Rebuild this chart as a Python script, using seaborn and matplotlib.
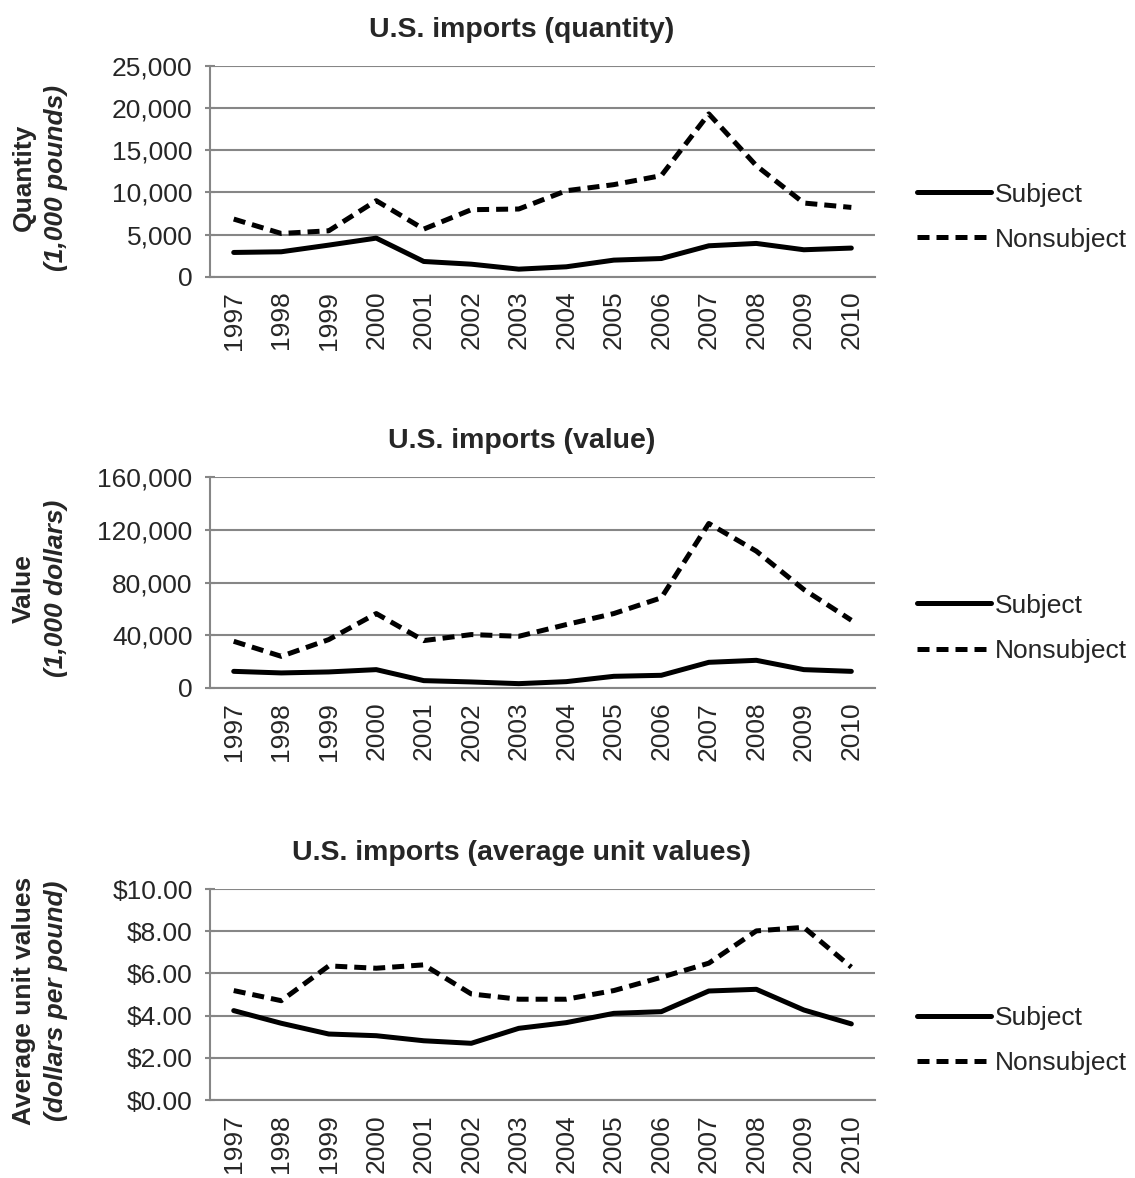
import pandas as pd
import matplotlib
matplotlib.use("Agg")
import matplotlib.pyplot as plt
import matplotlib.ticker as mtick
import seaborn as sns

years = [str(y) for y in range(1997, 2011)]

qty_subject = [2890, 2970, 3760, 4590, 1820, 1500, 910, 1190, 1980, 2170, 3680, 3960, 3210, 3410]
qty_nonsubject = [6850, 5140, 5460, 9030, 5660, 7960, 8040, 10210, 10930, 12000, 19320, 13180, 8750, 8230]

val_subject = [12600, 11400, 12150, 13900, 5550, 4560, 3270, 4790, 8830, 9600, 19450, 20970, 13900, 12600]
val_nonsubject = [35400, 24000, 36700, 56450, 35940, 40500, 39200, 48100, 56450, 68400, 124800, 103800, 74700, 51400]

auv_subject = [4.24, 3.64, 3.13, 3.05, 2.81, 2.69, 3.40, 3.67, 4.11, 4.19, 5.17, 5.25, 4.27, 3.61]
auv_nonsubject = [5.19, 4.71, 6.36, 6.25, 6.41, 5.03, 4.78, 4.78, 5.19, 5.82, 6.49, 8.02, 8.19, 6.30]

titles = ["U.S. imports (quantity)", "U.S. imports (value)", "U.S. imports (average unit values)"]
ylabels = [("Quantity", "(1,000 pounds)"), ("Value", "(1,000 dollars)"),
           ("Average unit values", "(dollars per pound)")]

sns.set_style("white")
plt.rcParams["font.family"] = ["Liberation Sans", "DejaVu Sans"]

fig = plt.figure(figsize=(11.35, 11.78), dpi=100)
grey = "#868686"
fs = 19

panels = [
    (qty_subject, qty_nonsubject, (0, 25000), 5000, lambda v, p: f"{v:,.0f}"),
    (val_subject, val_nonsubject, (0, 160000), 40000, lambda v, p: f"{v:,.0f}"),
    (auv_subject, auv_nonsubject, (0, 10), 2, lambda v, p: f"${v:,.2f}"),
]
bottoms = [0.765, 0.416, 0.0662]

for i, (subj, nonsubj, ylim, step, fmt) in enumerate(panels):
    ax = fig.add_axes([0.185, bottoms[i], 0.586, 0.179])
    df = pd.DataFrame({
        "Year": years * 2,
        "Value": subj + nonsubj,
        "Series": ["Subject"] * len(years) + ["Nonsubject"] * len(years),
    })
    sns.lineplot(data=df, x="Year", y="Value", hue="Series", style="Series",
                 palette={"Subject": "black", "Nonsubject": "black"},
                 dashes={"Subject": "", "Nonsubject": (2.4, 1.4)},
                 linewidth=3.6, ax=ax, sort=False)
    for ln in ax.lines:
        ln.set_dash_capstyle("butt")

    ax.set_xlim(-0.5, len(years) - 0.5)
    ax.set_ylim(*ylim)
    ax.yaxis.set_major_locator(mtick.MultipleLocator(step))
    ax.yaxis.set_major_formatter(mtick.FuncFormatter(fmt))
    ax.grid(True, axis="y", color=grey, linewidth=1.5)
    ax.set_axisbelow(True)

    ax.set_xticks(range(len(years)))
    ax.set_xticklabels(years, rotation=90)
    ax.set_xticks([x - 0.5 for x in range(len(years) + 1)], minor=True)
    ax.tick_params(axis="x", which="major", length=0, labelsize=fs, pad=10)
    ax.tick_params(axis="x", which="minor", length=6, width=1.5, color=grey, direction="out")
    ax.tick_params(axis="y", length=7, width=1.5, color=grey, direction="inout",
                   left=True, labelsize=fs, pad=9)

    for s in ["top", "right"]:
        ax.spines[s].set_visible(False)
    for s in ["left", "bottom"]:
        ax.spines[s].set_color(grey)
        ax.spines[s].set_linewidth(1.5)

    ax.set_xlabel("")
    ax.set_ylabel("")
    ax.set_title(titles[i], fontsize=20.5, fontweight="bold", pad=21, x=0.468)

    l1, l2 = ylabels[i]
    ax.text(-0.28, 0.47, l1, transform=ax.transAxes, rotation=90, fontsize=fs,
            fontweight="bold", ha="center", va="center")
    ax.text(-0.232, 0.47, l2, transform=ax.transAxes, rotation=90, fontsize=fs,
            fontweight="bold", fontstyle="italic", ha="center", va="center")

    handles, labels = ax.get_legend_handles_labels()
    ax.legend(handles, labels, loc="center left", bbox_to_anchor=(1.063, 0.283),
              frameon=False, fontsize=fs, handlelength=2.8, handletextpad=0.15,
              borderaxespad=0, borderpad=0, labelspacing=0.8)

fig.savefig("out.png", dpi=100)
